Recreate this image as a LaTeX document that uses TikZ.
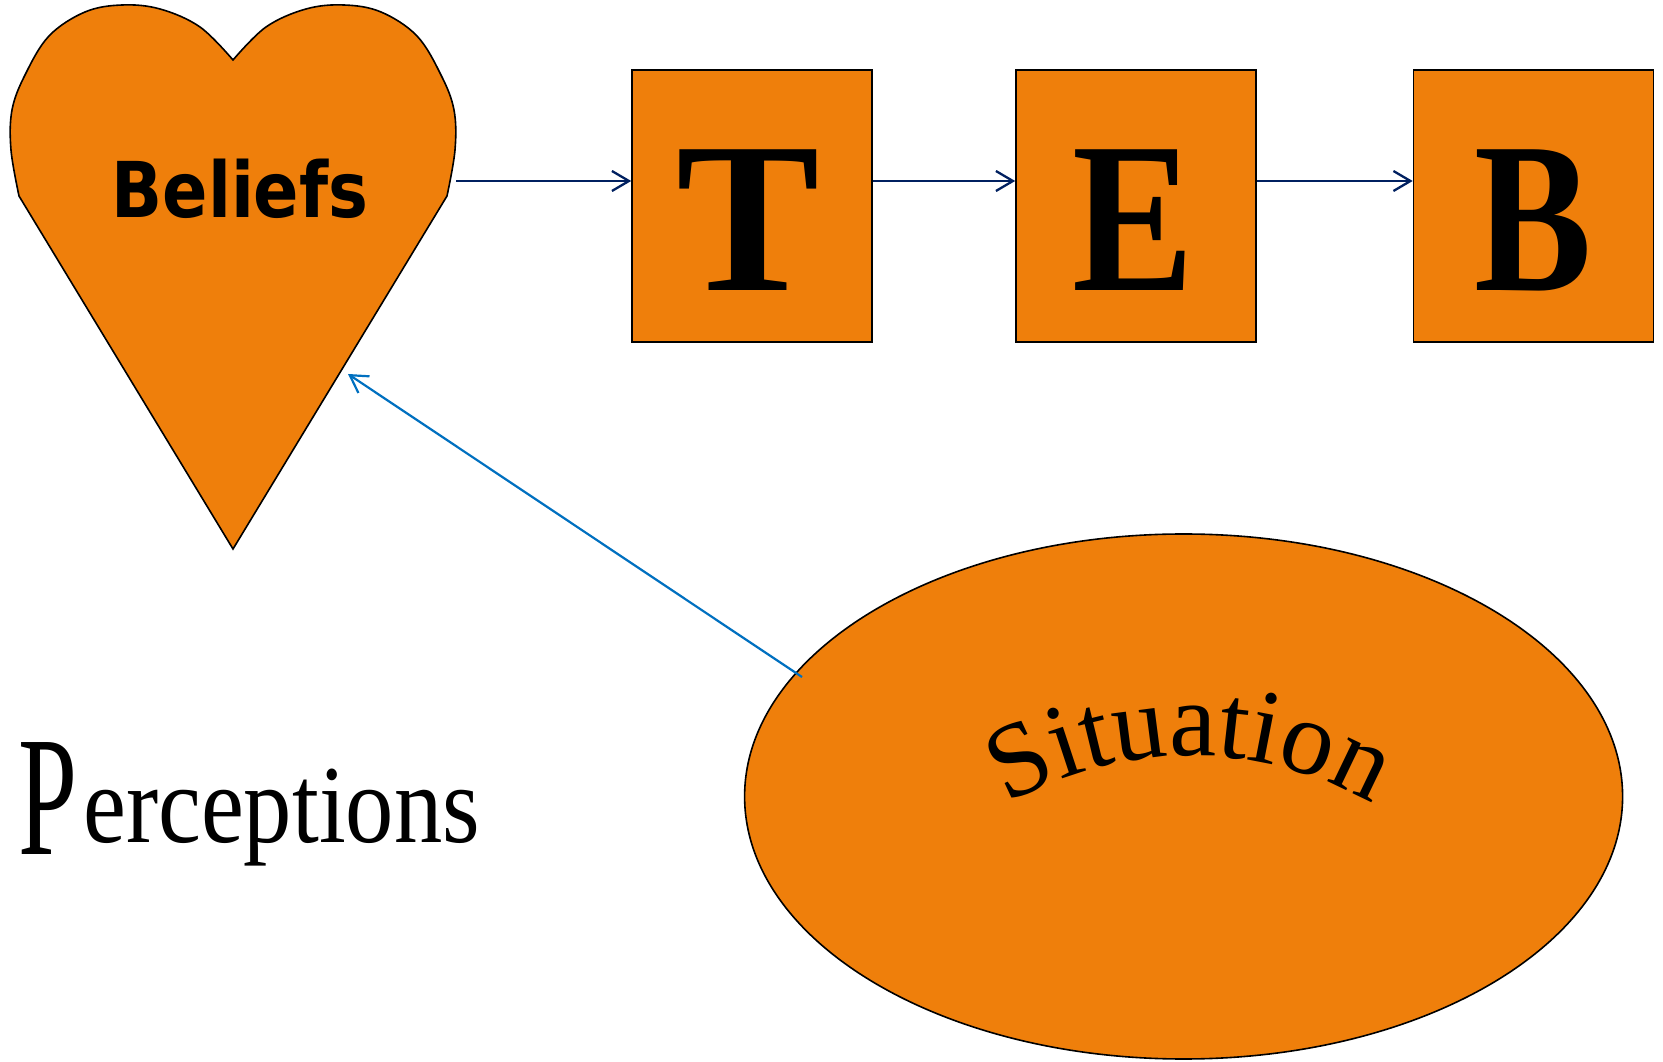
\documentclass[tikz,border=0pt]{standalone}
\usepackage{fontspec}
\setmainfont{Liberation Serif}
\newfontfamily\heavyfont{DejaVu Sans}
\usetikzlibrary{arrows.meta,shapes.geometric,decorations.text,calc}
\definecolor{fillorange}{HTML}{EF7F0B}
\definecolor{navyline}{HTML}{002060}
\definecolor{blueline}{HTML}{0070C0}

\begin{document}
\begin{tikzpicture}[x=1pt,y=1pt,
  shapeline/.style={draw=black, line width=1.6pt, fill=fillorange},
  stagebox/.style={shapeline, rectangle, minimum width=240pt, minimum height=272pt, inner sep=0pt},
  stageletter/.style={font=\fontsize{215}{215}\selectfont\bfseries, inner sep=0pt},
  flowarrow/.style={draw=navyline, line width=2.3pt, -{Straight Barb[length=17pt,width=20pt]}},
  feedback/.style={draw=blueline, line width=2.2pt, -{Straight Barb[length=17pt,width=20pt]}},
]
\useasboundingbox (0,0) rectangle (1663,1061);

% heart holding the beliefs
\draw[shapeline]
  plot[smooth, tension=0.6] coordinates {(19,865) (11,911) (12,951) (25,986) (49,1025) (85,1049) (122,1056) (160,1052) (200,1034) (233,1001)}
  -- plot[smooth, tension=0.6] coordinates {(233,1001) (266,1034) (306,1052) (344,1056) (381,1049) (417,1025) (441,986) (454,951) (455,911) (447,865)}
  -- (233,512) -- cycle;
\node[font=\heavyfont\bfseries\fontsize{77}{77}\selectfont, xscale=0.87, inner sep=0pt] (beliefs) at (240,872) {Beliefs};
\coordinate (heartR) at (456,880);
\coordinate (heartP) at (348,687);

% T -> E -> B chain
\node[stagebox] (T) at (752,855) {};
\node[stagebox] (E) at (1136,855) {};
\node[stagebox] (B) at (1533.5,855) {};
\node[stageletter] (tT) at (748,841) {T};
\node[stageletter, xscale=0.85] (tE) at (1133,841) {E};
\node[stageletter, xscale=0.82] (tB) at (1533,841) {B};

\draw[flowarrow] (heartR) -- (T.west |- heartR);
\draw[flowarrow] (T.east |- heartR) -- (E.west |- heartR);
\draw[flowarrow] (E.east |- heartR) -- (B.west |- heartR);

% situation ellipse with arched label
\node[shapeline, ellipse, minimum width=878pt, minimum height=525pt, inner sep=0pt] (sit) at (1183.6,264.5) {};
\path[decorate, decoration={text along path, text align=center,
    text={|\fontsize{106}{106}\selectfont|Situation}}]
  ($(1190,-64)+(150:369)$) arc[start angle=150, end angle=30, radius=369];
\coordinate (sitStart) at (802,384);
\draw[feedback] (sitStart) -- (heartP);

% perceptions label
\node[anchor=base west, inner sep=0pt, xscale=0.62, font=\fontsize{171}{171}\selectfont] (pP) at (18,206) {P};
\node[anchor=base west, inner sep=0pt, xscale=0.87, font=\fontsize{111}{111}\selectfont] (pRest) at (83,218) {erceptions};
\end{tikzpicture}
\end{document}
